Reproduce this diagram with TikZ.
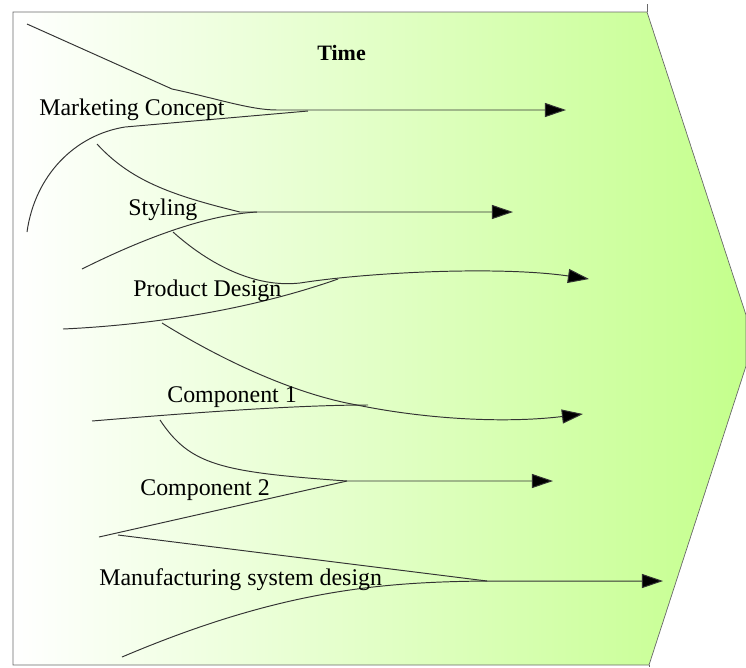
\documentclass[tikz,border=0pt]{standalone}
\usepackage{fontspec}
\setmainfont{Liberation Serif}
\usetikzlibrary{arrows.meta}
\definecolor{framegrey}{RGB}{105,105,105}
\definecolor{leafgreen}{RGB}{196,255,140}

\begin{document}
\begin{tikzpicture}[x=0.02cm,y=-0.02cm,
    branch/.style={line width=0.55pt,draw=black!80},
    flow/.style={line width=0.55pt,draw=black!80,-{Triangle[length=12pt,width=8pt,fill=black]}},
    lab/.style={anchor=base west,inner sep=0pt,font=\fontsize{13.6}{16}\selectfont}]
  \useasboundingbox (0,0) rectangle (746,667);
    \coordinate (F0) at (13,12);
    \coordinate (F1) at (647,12);
    \coordinate (F2) at (746,315);
    \coordinate (F3) at (746,366);
    \coordinate (F4) at (649,665);
    \coordinate (F5) at (13,665);
    % marketing
    \coordinate (M0) at (27,24);
    \coordinate (M1) at (172,89);
    \coordinate (M2) at (277,110);
    \coordinate (M3) at (566,110);
    \coordinate (M4) at (27,232);
    \coordinate (M5) at (125,127);
    \coordinate (M6) at (308,111);
    % styling
    \coordinate (S0) at (97,144);
    \coordinate (S2) at (240,212);
    \coordinate (S3) at (513,212);
    \coordinate (S4) at (82,269);
    \coordinate (S5) at (257,212);
    % product design
    \coordinate (P0) at (173,232);
    \coordinate (P1) at (300,283);
    \coordinate (P2) at (589,279);
    \coordinate (P3) at (63,329);
    \coordinate (P4) at (338,279);
    % component 1
    \coordinate (C0) at (162,323);
    \coordinate (C1) at (357,405);
    \coordinate (C2) at (583,414);
    \coordinate (C3) at (92,421);
    \coordinate (C4) at (368,405);
    % component 2
    \coordinate (D0) at (160,420);
    \coordinate (D2) at (347,481);
    \coordinate (D3) at (553,481);
    \coordinate (D4) at (99,537);
    % manufacturing
    \coordinate (E0) at (118,535);
    \coordinate (E1) at (487,581);
    \coordinate (E2) at (663,581);
    \coordinate (E3) at (122,657);
      \path [draw=framegrey,left color=white,right color=leafgreen]
        (F0) -- (F1) -- (F2) -- (F3) -- (F4) -- (F5) -- cycle;
      \draw [framegrey] (F1) -- ++(0,-8);
      \draw [framegrey] (F4) -- ++(0,2);
      \draw [flow] (M0) -- (M1)
        .. controls (215,98) and (250,110) .. (M2) -- (M3);
      \draw [branch] (M4)
        .. controls (35,175) and (75,135) .. (M5) -- (M6);
      \draw [flow] (S0)
        .. controls (130,180) and (170,195) .. (S2) -- (S3);
      \draw [branch] (S4)
        .. controls (130,245) and (200,215) .. (S5);
      \draw [flow] (P0)
        .. controls (210,265) and (255,288) .. (P1)
        .. controls (370,272) and (500,266) .. (P2);
      \draw [branch] (P3)
        .. controls (150,325) and (250,310) .. (P4);
      \draw [flow] (C0)
        .. controls (230,365) and (300,395) .. (C1)
        .. controls (420,418) and (500,424) .. (C2);
      \draw [branch] (C3)
        .. controls (200,412) and (300,405) .. (C4);
      \draw [flow] (D0)
        .. controls (190,465) and (220,472) .. (D2) -- (D3);
      \draw [branch] (D4) -- (D2);
      \draw [flow] (E0) -- (E1) -- (E2);
      \draw [branch] (E3)
        .. controls (280,590) and (380,582) .. (E1);
      \node [lab,font=\fontsize{12.5}{15}\selectfont\bfseries] (time) at (317,60) {Time};
      \node [lab] (mkt) at (39,115) {Marketing Concept};
      \node [lab] (sty) at (128,215) {Styling};
      \node [lab] (prod) at (133,296) {Product Design};
      \node [lab] (comp1) at (167,402) {Component 1};
      \node [lab] (comp2) at (140,495) {Component 2};
      \node [lab] (manu) at (99,585) {Manufacturing system design};
  \end{tikzpicture}
\end{document}
